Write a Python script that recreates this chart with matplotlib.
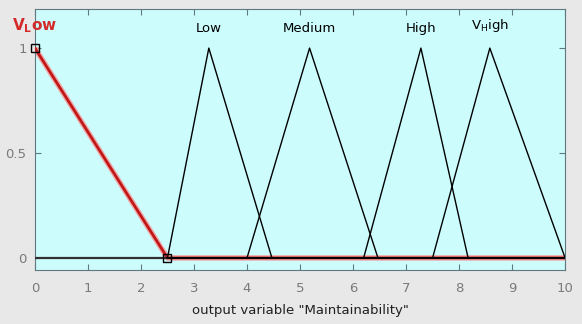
import matplotlib.pyplot as plt
import numpy as np

plt.rcParams['mathtext.default'] = 'regular'

# membership functions (triangles): name, a, b, c
mf_names = [r'V$_L$ow', 'Low', 'Medium', 'High', r'V$_H$igh']
mf_a = [0.0, 2.5, 4.0, 6.2, 7.5]
mf_b = [0.0, 3.28, 5.18, 7.28, 8.58]
mf_c = [2.5, 4.47, 6.47, 8.17, 10.0]
label_y = [1.105, 1.095, 1.095, 1.095, 1.11]

x = np.linspace(0, 10, 2001)

def trimf(x, a, b, c):
    left = np.where(b > a, (x - a) / max(b - a, 1e-12), 1.0)
    right = np.where(c > b, (c - x) / max(c - b, 1e-12), 1.0)
    y = np.minimum(left, right)
    y = np.where(x < a, 0, y)
    y = np.where(x > c, 0, y)
    return np.clip(y, 0, 1)

fig = plt.figure(figsize=(5.82, 3.24), dpi=100, facecolor='#e8e8e8')
ax = fig.add_axes([0.060, 0.167, 0.911, 0.805])
ax.set_facecolor('#cdfcfd')

# selected MF in red
y0 = trimf(x, mf_a[0], mf_b[0], mf_c[0])
ax.plot(x, y0, color='#f0a8a8', lw=4.0, solid_capstyle='butt', zorder=2)
ax.plot(x, y0, color='#c01818', lw=2.0, zorder=3)

for i in range(1, len(mf_names)):
    ax.plot(x, trimf(x, mf_a[i], mf_b[i], mf_c[i]), color='black', lw=1.0, zorder=4)
ax.plot([0, 2.5], [0, 0], color='#303030', lw=1.6, zorder=4)
ax.plot([2.5, 10], [0, 0], color='black', lw=1.2, zorder=4)

ax.plot([mf_a[0], mf_c[0]], [1, 0], ls='none', marker='s', ms=6,
        mfc='none', mec='black', mew=1.0, zorder=5, clip_on=False)

for i, name in enumerate(mf_names):
    col = '#d42a2a' if i == 0 else 'black'
    ax.text(mf_b[i], label_y[i], name, ha='center', va='center', color=col,
            fontsize=11 if i == 0 else 9.5, fontweight='bold' if i == 0 else 'normal')

ax.set_xlim(0, 10)
ax.set_ylim(-0.057, 1.186)
ax.set_xticks(range(11))
ax.set_yticks([0, 0.5, 1])
ax.set_yticklabels(['0', '0.5', '1'])
ax.tick_params(axis='both', direction='in', length=4, top=True, right=True, labelsize=9.5,
               labelcolor='#7a7a7a', color='#607880')
ax.tick_params(axis='x', pad=9)
ax.tick_params(axis='y', pad=6)
for s in ax.spines.values():
    s.set_color('#607880')
ax.set_xlabel('output variable "Maintainability"', fontsize=9.5, color='#202020', labelpad=6)

fig.savefig('out.png', dpi=100, facecolor=fig.get_facecolor())
